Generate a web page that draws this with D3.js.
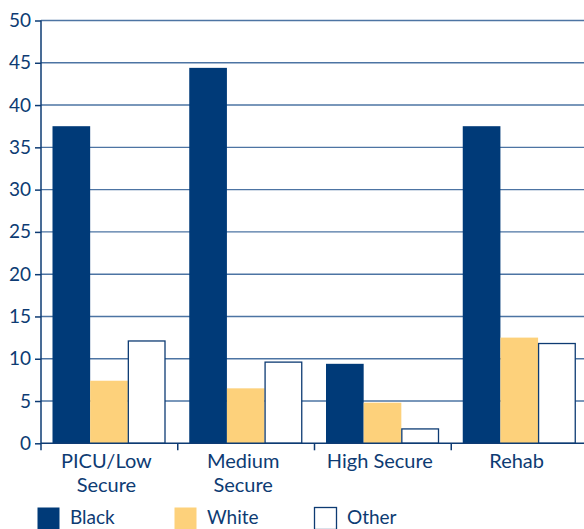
<!DOCTYPE html>
<html>
<head>
<meta charset="utf-8">
<script src="https://cdn.jsdelivr.net/npm/d3@7"></script>
<style>
  html, body { margin: 0; padding: 0; background: #fff; }
  svg { display: block; }
  text { font-family: Lato, "Open Sans", sans-serif; fill: #0d3b73; }
</style>
</head>
<body>
<svg id="chart" width="584" height="529"></svg>
<script>
// Percentage of patients by ethnicity in each service type
const categories = ["PICU/Low Secure", "Medium Secure", "High Secure", "Rehab"];
const categoryLines = [["PICU/Low", "Secure"], ["Medium", "Secure"], ["High Secure"], ["Rehab"]];
const seriesNames = ["Black", "White", "Other"];
const black = [37.5, 44.4, 9.4, 37.5];
const white = [7.4, 6.5, 4.8, 12.5];
const other = [12.1, 9.6, 1.7, 11.8];
const yTicks = [0, 5, 10, 15, 20, 25, 30, 35, 40, 45, 50];

const seriesValues = [black, white, other];
const colors = { Black: "#003a78", White: "#fdd17b", Other: "#ffffff" };
const navy = "#0d3b73";

const svg = d3.select("#chart");
const plotLeft = 41, plotRight = 588, plotTop = 20.5, plotBottom = 443.3;

const x0 = d3.scaleBand().domain(categories).range([plotLeft, plotRight]).padding(0);
const x1 = d3.scaleBand().domain(seriesNames).range([11.5, 124.5]).padding(0);
const y = d3.scaleLinear().domain([0, 50]).range([plotBottom, plotTop]);

// horizontal gridlines
svg.append("g")
  .selectAll("line")
  .data(yTicks.filter(t => t > 0))
  .join("line")
  .attr("x1", plotLeft).attr("x2", 584)
  .attr("y1", d => y(d)).attr("y2", d => y(d))
  .attr("stroke", "#4d74a3").attr("stroke-width", 1.4);

// bars
const groups = svg.append("g")
  .selectAll("g")
  .data(categories)
  .join("g")
  .attr("transform", d => `translate(${x0(d)},0)`);

groups.selectAll("rect")
  .data((c, i) => seriesNames.map((s, k) => ({ s, v: seriesValues[k][i] })))
  .join("rect")
  .attr("x", d => x1(d.s) + (d.s === "Other" ? 0.5 : 0))
  .attr("width", d => x1.bandwidth() - (d.s === "Other" ? 1 : 0))
  .attr("y", d => y(d.v))
  .attr("height", d => y(0) - y(d.v))
  .attr("fill", d => colors[d.s])
  .attr("stroke", d => d.s === "Other" ? navy : "none")
  .attr("stroke-width", 1.3);

// y axis
const yAxis = d3.axisLeft(y).tickValues(yTicks).tickSize(6).tickPadding(4);
const gy = svg.append("g").attr("transform", `translate(${plotLeft},0)`).call(yAxis);
gy.select(".domain").remove();
gy.append("line")
  .attr("x1", 0).attr("x2", 0)
  .attr("y1", plotTop).attr("y2", plotBottom + 7)
  .attr("stroke", navy).attr("stroke-width", 1.5);
gy.selectAll(".tick line").attr("stroke", navy).attr("stroke-width", 1.5);
gy.selectAll(".tick text")
  .attr("fill", navy)
  .style("font-size", "19px")
  .style("font-family", "Lato, 'Open Sans', sans-serif");

// x baseline with ticks between categories
const gx = svg.append("g");
gx.append("line")
  .attr("x1", plotLeft).attr("x2", 584)
  .attr("y1", plotBottom).attr("y2", plotBottom)
  .attr("stroke", navy).attr("stroke-width", 1.5);
gx.selectAll("line.sep")
  .data(categories.slice(1))
  .join("line")
  .attr("class", "sep")
  .attr("x1", d => x0(d)).attr("x2", d => x0(d))
  .attr("y1", plotBottom).attr("y2", plotBottom + 7)
  .attr("stroke", navy).attr("stroke-width", 1.5);

// category labels
categories.forEach((c, i) => {
  const cx = x0(c) + x0.bandwidth() / 2 - 3;
  const t = gx.append("text")
    .attr("x", cx)
    .attr("y", 468)
    .attr("text-anchor", "middle")
    .style("font-size", "20px");
  categoryLines[i].forEach((line, j) => {
    t.append("tspan")
      .attr("x", cx)
      .attr("dy", j === 0 ? 0 : 24)
      .text(line);
  });
});

// legend
const legendX = [37, 174, 314];
const legend = svg.append("g");
seriesNames.forEach((s, i) => {
  legend.append("rect")
    .attr("x", legendX[i] + 0.5).attr("y", 507.5)
    .attr("width", 22).attr("height", 22)
    .attr("fill", colors[s])
    .attr("stroke", s === "Other" ? navy : "none")
    .attr("stroke-width", 1.3);
  legend.append("text")
    .attr("x", legendX[i] + 33).attr("y", 524)
    .style("font-size", "19px")
    .text(s);
});
</script>
</body>
</html>
